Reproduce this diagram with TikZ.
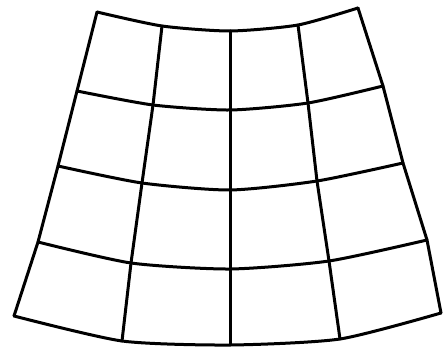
\documentclass[tikz,border=0pt]{standalone}
\begin{document}
\begin{tikzpicture}[x=1pt,y=-1pt,gridline/.style={line width=3pt,line join=round,line cap=round,black}]
\useasboundingbox (0,0) rectangle (444,347);
% grid points
\coordinate (p00) at (97,12);  \coordinate (p01) at (162,26); \coordinate (p02) at (230,31); \coordinate (p03) at (298,25); \coordinate (p04) at (358,8);
\coordinate (p10) at (77,91);  \coordinate (p11) at (153,105);\coordinate (p12) at (230,110);\coordinate (p13) at (308,103);\coordinate (p14) at (383,86);
\coordinate (p20) at (58,166); \coordinate (p21) at (142,183);\coordinate (p22) at (230,190);\coordinate (p23) at (317,181);\coordinate (p24) at (403,163);
\coordinate (p30) at (38,242); \coordinate (p31) at (131,263);\coordinate (p32) at (230,269);\coordinate (p33) at (329,261);\coordinate (p34) at (427,240);
\coordinate (p40) at (14,316); \coordinate (p41) at (122,341);\coordinate (p42) at (230,345);\coordinate (p43) at (340,339);\coordinate (p44) at (441,313);
% horizontal arcs
\foreach \i in {0,...,4}{
  \draw[gridline] plot[smooth,tension=0.4] coordinates {(p\i0) (p\i1) (p\i2) (p\i3) (p\i4)};
}
% radial lines
\foreach \j in {0,...,4}{
  \draw[gridline] (p0\j) -- (p1\j) -- (p2\j) -- (p3\j) -- (p4\j);
}
\end{tikzpicture}
\end{document}
